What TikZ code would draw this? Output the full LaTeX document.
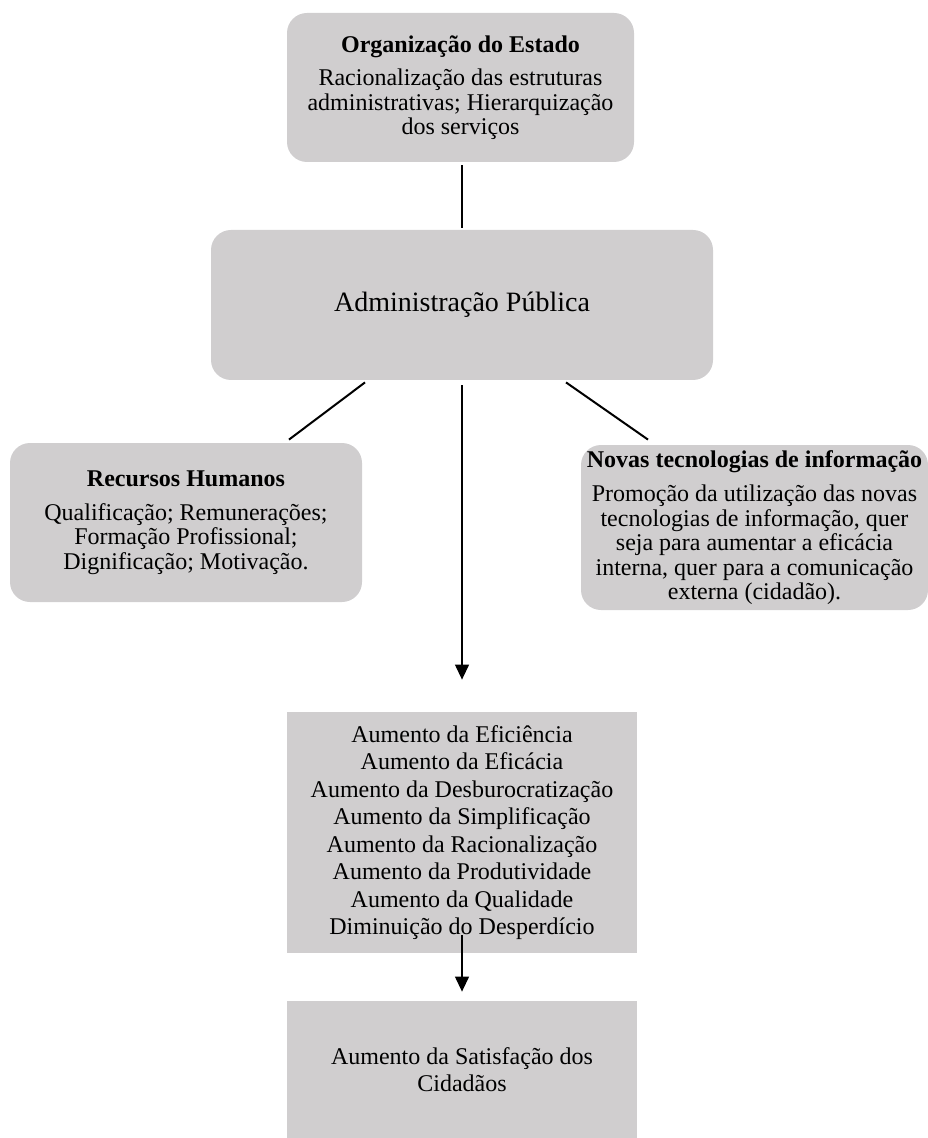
\documentclass[tikz,border=0pt]{standalone}
\usepackage{fontspec}
\setmainfont{Liberation Serif}
\usetikzlibrary{arrows.meta,calc}
\definecolor{boxgrey}{RGB}{208,206,207}
\begin{document}
\begin{tikzpicture}[x=0.5pt,y=-0.5pt,
  roundbox/.style={fill=boxgrey, rounded corners=10pt, inner sep=0pt, align=center,
                   font=\fontsize{12}{12.25}\selectfont},
  flatbox/.style={fill=boxgrey, inner sep=0pt, align=center,
                  font=\fontsize{12}{13.75}\selectfont},
  link/.style={line width=1pt},
  flow/.style={line width=0.6pt, -{Triangle[length=7.5pt,width=7pt]}}]
\useasboundingbox (0,0) rectangle (927,1138);

% boxes
\node[roundbox, minimum width=173.5pt, minimum height=74.5pt] (org) at (460.5,87.5)
  {\textbf{Organização do Estado}\\[4.5pt]Racionalização das estruturas\\administrativas; Hierarquização\\dos serviços};
\node[roundbox, minimum width=251pt, minimum height=75pt, font=\fontsize{14}{16}\selectfont] (adm) at (462,305)
  {Administração Pública};
\node[roundbox, minimum width=176pt, minimum height=79.5pt] (rh) at (186,522.5)
  {\textbf{Recursos Humanos}\\[4.5pt]Qualificação; Remunerações;\\Formação Profissional;\\Dignificação; Motivação.};
\node[roundbox, minimum width=173.5pt, minimum height=82.5pt] (nti) at (754.5,527.5)
  {\textbf{Novas tecnologias de informação}\\[5pt]Promoção da utilização das novas\\tecnologias de informação, quer\\seja para aumentar a eficácia\\interna, quer para a comunicação\\externa (cidadão).};
\node[flatbox, minimum width=175pt, minimum height=120.5pt] (eff) at (462,832.5)
  {Aumento da Eficiência\\Aumento da Eficácia\\Aumento da Desburocratização\\Aumento da Simplificação\\Aumento da Racionalização\\Aumento da Produtividade\\Aumento da Qualidade\\Diminuição do Desperdício};
\node[flatbox, minimum width=175pt, minimum height=68.5pt] (sat) at (462,1069.5)
  {Aumento da Satisfação dos\\Cidadãos};

% connectors
\draw[link, line width=1.2pt, shorten <=1.5pt, shorten >=1pt] (org.south -| adm.north) -- (adm.north);

\coordinate (lA) at ($(adm.south)+(-97,2)$);
\coordinate (lB) at ($(rh.north)+(103,-3)$);
\coordinate (rA) at ($(adm.south)+(104,2)$);
\coordinate (rB) at ($(nti.north)+(-106.5,-5)$);
\draw[link] (lA) -- (lB);
\draw[link] (rA) -- (rB);

\draw[flow, shorten <=2.5pt, shorten >=16pt] (adm.south) -- (eff.north);
\coordinate (dIn) at ($(eff.south)+(0,-18)$);
\draw[flow, shorten >=4.5pt] (dIn) -- (sat.north);
\end{tikzpicture}
\end{document}
